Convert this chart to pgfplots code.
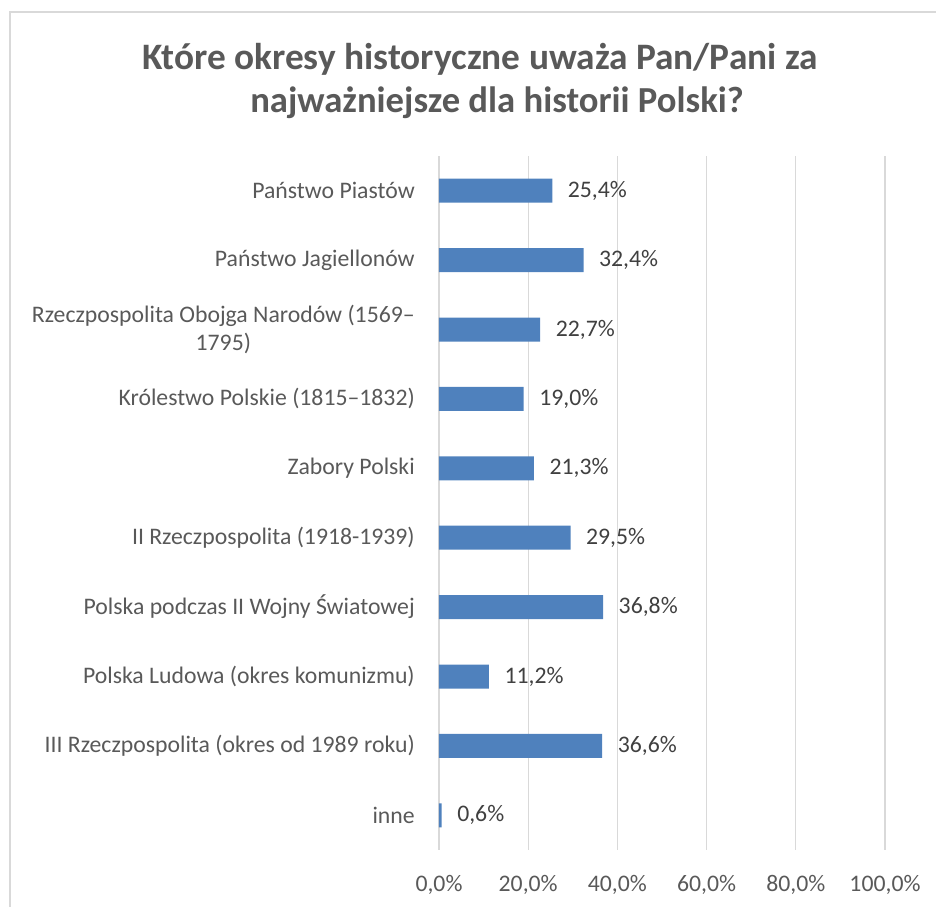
\documentclass[border=0pt]{standalone}
\usepackage{pgfplots}
\pgfplotsset{compat=1.18}
\usepackage{fontspec}
\setmainfont{Carlito}
\definecolor{barblue}{HTML}{4F81BD}
\definecolor{txt}{HTML}{595959}
\definecolor{gridc}{HTML}{D9D9D9}
\definecolor{lbl}{HTML}{404040}
\begin{document}
\begin{tikzpicture}
\useasboundingbox (0,0) rectangle (702pt,680.25pt);
\draw[gridc, line width=1.5pt] (7.125pt,0pt) -- (7.125pt,671.25pt) -- (702pt,671.25pt);
\node[anchor=base, font=\fontsize{28}{33}\selectfont\bfseries, text=txt, inner sep=0pt] at (360pt,628pt) {Które okresy historyczne uważa Pan/Pani za};
\node[anchor=base, font=\fontsize{27.5}{33}\selectfont\bfseries, text=txt, inner sep=0pt] at (372.75pt,595.5pt) {najważniejsze dla historii Polski?};
\begin{axis}[
  at={(329.25pt,42.75pt)}, anchor=south west,
  width=334.5pt, height=520.5pt, scale only axis,
  xmin=0, xmax=100, ymin=-0.5, ymax=9.5, y dir=reverse,
  xbar, bar width=18pt,
  axis line style={draw=none},
  major tick length=0pt,
  xmajorgrids, grid style={gridc, line width=0.9pt},
  xtick={0,20,40,60,80,100},
  /pgf/number format/assume math mode=true,
  xticklabel={\pgfmathprintnumber[fixed,fixed zerofill,precision=1,use comma]{\tick}\%},
  xticklabel style={font=\fontsize{17.8}{21}\selectfont, text=txt, anchor=north, inner sep=0pt, yshift=-18.5pt},
  ytick={0,...,9},
  yticklabels={Państwo Piastów, Państwo Jagiellonów, {Rzeczpospolita Obojga Narodów (1569–\\1795)}, Królestwo Polskie (1815–1832), Zabory Polski, II Rzeczpospolita (1918-1939), Polska podczas II Wojny Światowej, Polska Ludowa (okres komunizmu), III Rzeczpospolita (okres od 1989 roku), inne},
  yticklabel style={font=\fontsize{17.8}{21.5}\selectfont, text=txt, align=center, anchor=east, inner sep=0pt, xshift=-18pt},
  nodes near coords={\pgfmathprintnumber[fixed,fixed zerofill,precision=1,use comma]{\pgfplotspointmeta}\%},
  nodes near coords style={font=\fontsize{17.8}{21}\selectfont, text=lbl, anchor=west, inner sep=0pt, xshift=11.5pt},
  clip=false,
]
\addplot[fill=barblue, draw=none] coordinates {(25.4,0) (32.4,1) (22.7,2) (19.0,3) (21.3,4) (29.5,5) (36.8,6) (11.2,7) (36.6,8) (0.6,9)};
\end{axis}
\end{tikzpicture}
\end{document}
